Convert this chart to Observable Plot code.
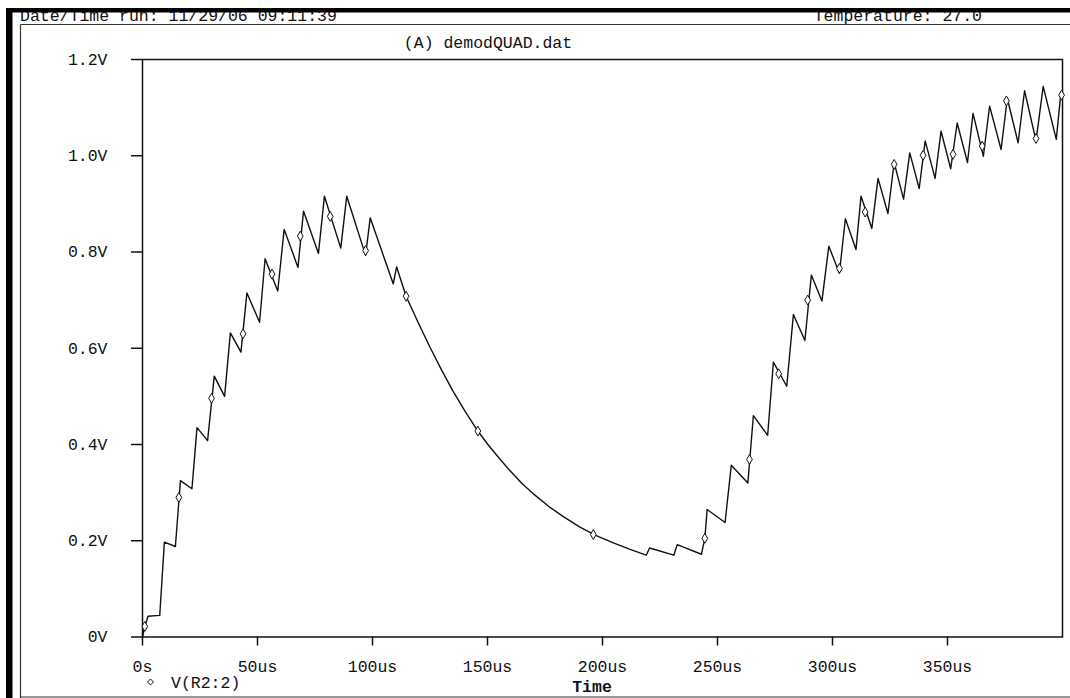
<!DOCTYPE html>
<html>
<head>
<meta charset="utf-8">
<script src="https://cdn.jsdelivr.net/npm/d3@7"></script>
<script src="https://cdn.jsdelivr.net/npm/@observablehq/plot@0.6"></script>
<style>
  html, body { margin: 0; padding: 0; background: #fff; }
  #wrap { position: relative; width: 1070px; height: 698px; overflow: hidden; background: #fff; }
  #chart, #deco { position: absolute; left: 0; top: 0; }
  #deco { pointer-events: none; }
  svg text { font-family: "Liberation Mono", "DejaVu Sans Mono", monospace; }
</style>
</head>
<body>
<div id="wrap">
  <div id="chart"></div>
  <svg id="deco" width="1070" height="698"></svg>
</div>
<script>
// ---- data (time in µs, voltage in V) ----
const timeUs = [0, 1.0, 2.4, 7.5, 9.5, 14.3, 16.5, 21.5, 23.7, 28.3, 31.2, 35.7, 38.2, 42.8, 45.4, 50.9, 53.3, 58.8, 61.6, 67.6, 70.0, 76.5, 79.1, 86.2, 88.8, 97.0, 99.0, 109.0, 110.5, 114.6,
  120, 125, 130, 135, 140, 145.8, 150, 155, 159.7, 165, 169.8, 177, 183, 190, 197, 205, 212, 219,
  220.5, 231, 232.5, 243, 244.5, 245.5, 253.3, 256.0, 263.2, 265.6, 271.8, 274.3, 280.1, 283.0, 288.0, 290.8, 295.4, 298.4, 303.0, 305.6, 310.2, 312.4, 317.1, 319.8, 324.1, 326.8, 330.9, 333.6, 337.7, 340.3, 344.6, 347.2, 351.4, 354.2, 358.7, 361.1, 365.6, 368.3, 373.3, 376.0, 380.7, 383.5, 388.5, 391.6, 397.3, 399.2, 400];
const volts = [0, 0.022, 0.043, 0.045, 0.197, 0.188, 0.325, 0.308, 0.435, 0.408, 0.542, 0.500, 0.632, 0.592, 0.715, 0.654, 0.786, 0.719, 0.847, 0.768, 0.885, 0.797, 0.916, 0.808, 0.916, 0.793, 0.871, 0.734, 0.769, 0.708,
  0.652, 0.602, 0.555, 0.511, 0.471, 0.428, 0.401, 0.372, 0.346, 0.319, 0.298, 0.270, 0.250, 0.229, 0.211, 0.195, 0.182, 0.170,
  0.185, 0.170, 0.192, 0.172, 0.205, 0.265, 0.238, 0.357, 0.320, 0.460, 0.419, 0.571, 0.521, 0.670, 0.616, 0.752, 0.698, 0.812, 0.756, 0.869, 0.805, 0.916, 0.849, 0.953, 0.880, 0.986, 0.910, 1.006, 0.932, 1.031, 0.953, 1.051, 0.973, 1.068, 0.986, 1.088, 0.999, 1.103, 1.013, 1.119, 1.027, 1.135, 1.031, 1.144, 1.034, 1.126, 1.126];

const markerTime = [1.0, 15.8, 30, 43.7, 56.3, 68.6, 81.6, 97, 114.6, 145.8, 196, 244.5, 263.9, 276.6, 289.2, 303, 314.2, 326.8, 339.4, 352.4, 365.1, 375.6, 388.5, 399.6];
const markerVolts = [0.022, 0.29, 0.496, 0.63, 0.754, 0.833, 0.874, 0.803, 0.708, 0.428, 0.213, 0.205, 0.369, 0.547, 0.70, 0.766, 0.883, 0.982, 1.001, 1.003, 1.02, 1.114, 1.036, 1.126];

const xTicks = [0, 50, 100, 150, 200, 250, 300, 350];
const xTickLabels = ["0s", "50us", "100us", "150us", "200us", "250us", "300us", "350us"];
const yTicks = [0, 0.2, 0.4, 0.6, 0.8, 1.0, 1.2];
const yTickLabels = ["0V", "0.2V", "0.4V", "0.6V", "0.8V", "1.0V", "1.2V"];

const seriesName = "V(R2:2)";
const titleText = "(A) demodQUAD.dat";
const headerLeft = "Date/Time run: 11/29/06 09:11:39";
const headerRight = "Temperature: 27.0";
const xLabel = "Time";

// ---- build tables ----
const trace = timeUs.map((t, i) => ({t, v: volts[i]}));
const markers = markerTime.map((t, i) => ({t, v: markerVolts[i]}));

const ink = "#111";
const chart = Plot.plot({
  width: 1070,
  height: 698,
  marginLeft: 142,
  marginRight: 8,
  marginTop: 59,
  marginBottom: 61.5,
  style: {fontFamily: "Liberation Mono, DejaVu Sans Mono, monospace", fontSize: "16.5px", color: ink, background: "transparent"},
  x: {domain: [0, 400]},
  y: {domain: [0, 1.2]},
  marks: [
    Plot.frame({stroke: ink, strokeWidth: 1.5}),
    Plot.axisX({ticks: xTicks, tickFormat: d => xTickLabels[xTicks.indexOf(d)], tickSize: 9, tickPadding: 14, strokeWidth: 1.5, label: null, fill: ink}),
    Plot.axisY({ticks: yTicks, tickFormat: d => yTickLabels[yTicks.findIndex(y => Math.abs(y - d) < 1e-9)], tickSize: 11, tickPadding: 24, strokeWidth: 1.5, label: null, fill: ink}),
    Plot.line(trace, {x: "t", y: "v", stroke: ink, strokeWidth: 1.4}),
    Plot.dot(markers, {x: "t", y: "v", symbol: "diamond", r: 3, fill: "white", stroke: ink, strokeWidth: 1})
  ]
});
document.getElementById("chart").appendChild(chart);

// ---- window decorations (PSpice probe frame) ----
const deco = d3.select("#deco");
const textStyle = s => s.attr("font-size", "16.5px").attr("fill", ink);
deco.append("text").attr("x", 20).attr("y", 20.5).text(headerLeft).call(textStyle);
deco.append("text").attr("x", 982).attr("y", 21).attr("text-anchor", "end").text(headerRight).call(textStyle);
deco.append("text").attr("x", 488).attr("y", 48).attr("text-anchor", "middle").text(titleText).call(textStyle);
deco.append("text").attr("x", 592).attr("y", 692).attr("text-anchor", "middle").attr("font-weight", "bold").text(xLabel).call(textStyle);
// legend
deco.append("path").attr("d", "M150.5,679 L153.5,682 L150.5,685 L147.5,682 Z").attr("fill", "white").attr("stroke", ink).attr("stroke-width", 1);
deco.append("text").attr("x", 171).attr("y", 688).text(seriesName).call(textStyle);
// frame lines
deco.append("rect").attr("x", 6).attr("y", 8).attr("width", 1064).attr("height", 4.5).attr("fill", "#000");
deco.append("rect").attr("x", 6).attr("y", 8).attr("width", 6.5).attr("height", 690).attr("fill", "#000");
deco.append("line").attr("x1", 20.5).attr("x2", 1070).attr("y1", 24.5).attr("y2", 24.5).attr("stroke", "#333").attr("stroke-width", 1.2);
deco.append("line").attr("x1", 20.5).attr("x2", 20.5).attr("y1", 24.5).attr("y2", 698).attr("stroke", "#333").attr("stroke-width", 1.2);
deco.append("line").attr("x1", 20.5).attr("x2", 1070).attr("y1", 697).attr("y2", 697).attr("stroke", "#333").attr("stroke-width", 1.2);
</script>
</body>
</html>
